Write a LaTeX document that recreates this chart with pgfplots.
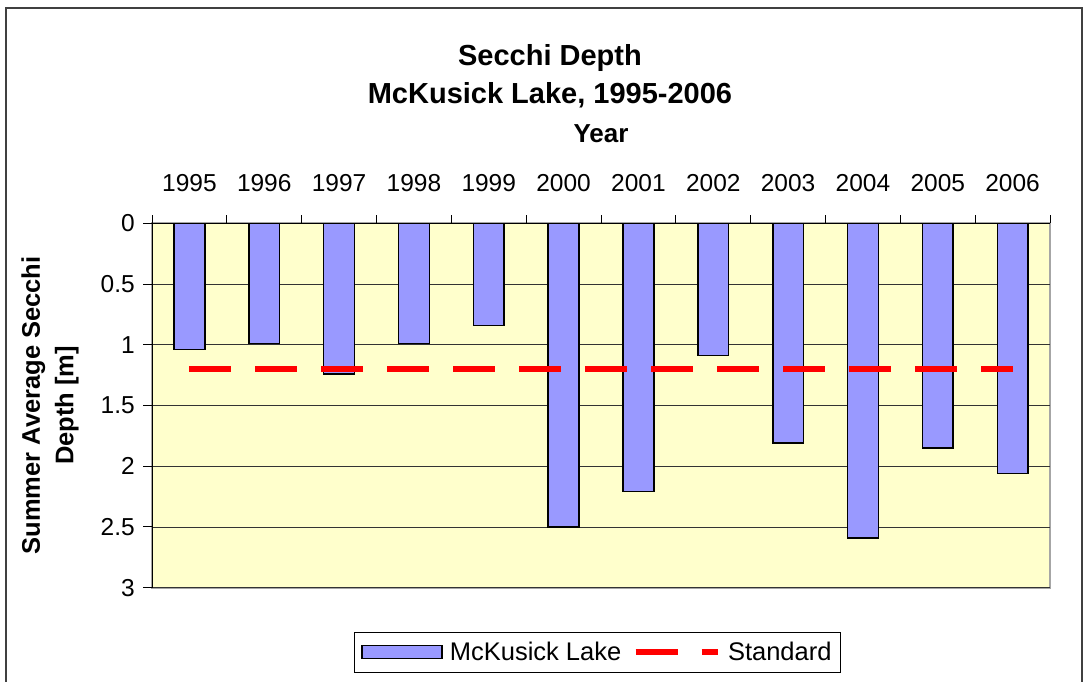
\documentclass[border=0pt]{standalone}
\usepackage{pgfplots}
\pgfplotsset{compat=1.18}
\usepackage{fontspec}
\setmainfont{Liberation Sans}
\definecolor{barblue}{HTML}{9999FF}
\definecolor{plotbg}{HTML}{FFFFCC}
\definecolor{framegray}{HTML}{404040}
\begin{document}
\begin{tikzpicture}[x=1pt,y=1pt]
\path[use as bounding box] (0,0) rectangle (1084,682);
\draw[framegray, line width=2pt] (6,-10) -- (6,674) -- (1082,674) -- (1082,-10);
\node[anchor=base, inner sep=0pt, font=\fontsize{29}{34}\selectfont\bfseries] at (550,616) {Secchi Depth};
\node[anchor=base, inner sep=0pt, font=\fontsize{29}{34}\selectfont\bfseries] at (550,578) {McKusick Lake, 1995-2006};
\node[anchor=base, inner sep=0pt, font=\fontsize{26}{30}\selectfont\bfseries] at (601,539.3) {Year};
\begin{axis}[
  at={(152pt,94.3pt)}, anchor=south west,
  scale only axis, width=898pt, height=364.4pt,
  xmin=-0.5, xmax=11.5, ymin=0, ymax=3, y dir=reverse,
  axis x line*=top, axis y line*=left,
  axis line style={black, line width=1pt, -},
  axis background/.style={fill=plotbg, draw=gray!70, line width=2pt},
  xtick={0,...,11},
  xticklabels={1995,1996,1997,1998,1999,2000,2001,2002,2003,2004,2005,2006},
  major x tick style={draw=none},
  minor xtick={-0.5,0.5,...,11.5},
  ytick={0,0.5,...,3},
  tick align=outside,
  major tick length=9pt, minor tick length=8pt,
  tick style={black, line width=1pt},
  ymajorgrids, grid style={black!80, line width=0.8pt},
  /pgf/number format/assume math mode=true,
  ticklabel style={font=\fontsize{24.5}{28}\selectfont},
  xticklabel style={anchor=base, inner sep=0pt, yshift=23pt},
  yticklabel style={anchor=east, inner sep=0pt, xshift=-8pt},
  ylabel={Summer Average Secchi\\Depth [m]},
  ylabel style={at={(axis description cs:-0.1136,0.5)}, anchor=center, align=center,
    inner sep=0pt, font=\fontsize{25.5}{33.5}\selectfont\bfseries},
  legend style={at={(axis description cs:0.496,-0.1765)}, anchor=center,
    draw=black, line width=1pt, fill=white, font=\fontsize{25.5}{28}\selectfont,
    legend columns=2, inner xsep=7pt, inner ysep=8pt,
    /tikz/every odd column/.append style={column sep=5pt},
    /tikz/every even column/.append style={column sep=9pt}},
  legend cell align=left,
]
\addplot[ybar, bar width=0.41, fill=barblue, draw=black, line width=1.5pt,
  legend image code/.code={\draw[fill=barblue, draw=black, line width=1.5pt] (0pt,-6.5pt) rectangle (80pt,6.5pt);}]
  coordinates {(0,1.04)(1,0.99)(2,1.24)(3,0.99)(4,0.84)(5,2.50)(6,2.21)(7,1.09)(8,1.81)(9,2.59)(10,1.85)(11,2.06)};
\addlegendentry{McKusick Lake}
\addplot[red, line width=6.7pt, dash pattern=on 42pt off 24pt,
  legend image code/.code={\draw[red, line width=6.7pt, dash pattern=on 42pt off 24pt] (0pt,0pt) -- (82pt,0pt);}]
  coordinates {(0,1.2)(11,1.2)};
\addlegendentry{Standard}
\end{axis}
\end{tikzpicture}
\end{document}
